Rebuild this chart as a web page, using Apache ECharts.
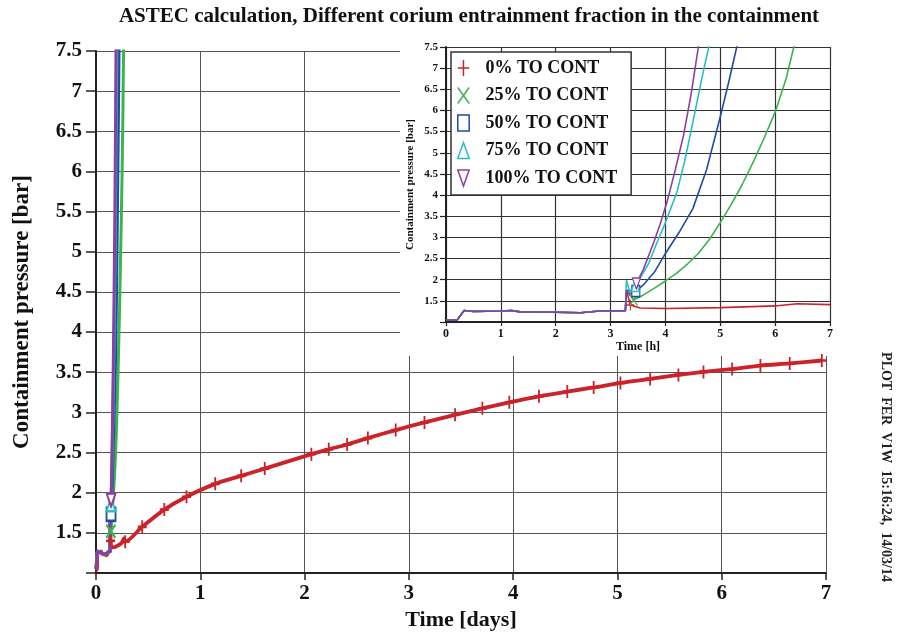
<!DOCTYPE html>
<html>
<head>
<meta charset="utf-8">
<script src="https://cdn.jsdelivr.net/npm/echarts@6/dist/echarts.min.js"></script>
<style>html,body{margin:0;padding:0;background:#fff}#c{width:903px;height:637px}</style>
</head>
<body>
<div id="c"></div>
<script>
// ---- data (inset, time in hours) ----
const seriesNames = ['0% TO CONT', '25% TO CONT', '50% TO CONT', '75% TO CONT', '100% TO CONT'];
const seriesColors = ['#cc2229', '#3cb44b', '#1c4ea2', '#2bbfc4', '#8b3fa0'];
// common part before the corium relocation (hours, bar)
const baseHours = [0, 0.2, 0.33, 0.5, 1.0, 1.2, 1.35, 2.0, 2.45, 2.8, 3.27];
const basePres  = [1.05, 1.04, 1.27, 1.25, 1.26, 1.27, 1.24, 1.23, 1.22, 1.26, 1.27];
// individual parts after the relocation [hours, bar]
const tail0   = [[3.29,1.75],[3.33,1.55],[3.36,1.40],[3.54,1.33],[4.03,1.32],[5.0,1.34],[6.0,1.38],[6.4,1.43],[7.0,1.41]];
const tail25  = [[3.29,1.75],[3.42,1.52],[3.6,1.64],[3.8,1.80],[4.0,1.97],[4.2,2.15],[4.4,2.37],[4.6,2.62],[4.8,2.95],[5.0,3.35],[5.2,3.78],[5.4,4.25],[5.6,4.78],[5.8,5.35],[6.0,5.96],[6.2,6.75],[6.34,7.5],[6.45,8.1]];
const tail50  = [[3.29,1.75],[3.46,1.73],[3.6,1.88],[3.8,2.18],[4.0,2.62],[4.25,3.12],[4.5,3.68],[4.75,4.6],[5.0,5.85],[5.15,6.65],[5.3,7.5],[5.4,8.1]];
const tail75  = [[3.29,1.99],[3.36,1.67],[3.45,1.85],[3.54,2.03],[3.7,2.4],[3.85,2.89],[4.0,3.35],[4.21,4.07],[4.35,4.8],[4.45,5.41],[4.56,6.1],[4.67,6.8],[4.79,7.5],[4.85,7.9]];
const tail100 = [[3.29,1.75],[3.36,1.63],[3.47,1.91],[3.6,2.25],[3.79,2.89],[3.9,3.3],[4.03,3.84],[4.18,4.6],[4.33,5.41],[4.47,6.4],[4.6,7.5],[4.66,8.0]];
const tailMarkIdx = [2, 1, 1, 2, 2];
// long-term pressure for 0% case (days, bar)
const redLongDays = [0.28,0.443,0.655,0.868,1.143,1.392,1.618,2.065,2.232,2.408,2.607,2.874,3.15,3.443,3.705,3.963,4.248,4.519,4.772,5.029,5.314,5.585,5.825,6.1,6.371,6.652,6.96];
const redLongPres = [1.39,1.575,1.79,1.95,2.11,2.21,2.30,2.48,2.54,2.60,2.68,2.78,2.875,2.97,3.05,3.125,3.2,3.26,3.31,3.367,3.417,3.467,3.504,3.54,3.583,3.61,3.646];
// axis ticks
const xTicksDays = [0, 7, 1];   // min, max, interval
const yTicks = [1, 7.5, 0.5];
const xTicksHours = [0, 7, 1];

const tails = [tail0, tail25, tail50, tail75, tail100];
const FONT = "'Liberation Serif', 'Times New Roman', serif";
const symPaths = [
  'path://M5,0L5,14M0,7L10,7',
  'path://M0,0L10,14M10,0L0,14',
  'path://M0,0L10,0L10,14L0,14Z',
  'path://M5,0L10,14L0,14Z',
  'path://M0,0L10,0L5,14Z'
];
const symFill = ['rgba(0,0,0,0)', 'rgba(0,0,0,0)', '#fff', '#fff', '#fff'];

function hourlyPoints(i) {
  const pts = baseHours.map((h, k) => ({ value: [h, basePres[k]], symbol: 'none' }));
  tails[i].forEach((p, k) => pts.push({ value: [p[0], p[1]], symbol: k === tailMarkIdx[i] ? symPaths[i] : 'none' }));
  return pts;
}

const series = [];
// inset series (hours)
for (let i = 0; i < 5; i++) {
  series.push({
    name: seriesNames[i], type: 'line', xAxisIndex: 1, yAxisIndex: 1, z: 3,
    data: hourlyPoints(i), symbolSize: [8, 11], showSymbol: true,
    smooth: false,
    lineStyle: { color: seriesColors[i], width: 1.6 },
    itemStyle: { color: symFill[i], borderColor: seriesColors[i], borderWidth: 1.3 },
    emphasis: { disabled: true }, silent: true
  });
}
// main series (days)
for (let i = 0; i < 5; i++) {
  let pts = hourlyPoints(i).map(d => ({ value: [d.value[0] / 24, d.value[1]], symbol: d.symbol }));
  if (i === 0) {
    pts = pts.filter(d => d.value[0] < redLongDays[0]);
    redLongDays.forEach((t, k) => pts.push({ value: [t, redLongPres[k]], symbol: symPaths[0] }));
  }
  series.push({
    name: seriesNames[i], type: 'line', xAxisIndex: 0, yAxisIndex: 0, z: 2,
    data: pts, symbolSize: [9, 13], showSymbol: true,
    smooth: i === 0 ? 0.25 : false,
    lineStyle: { color: seriesColors[i], width: i === 0 ? 3.8 : 3 },
    itemStyle: { color: symFill[i], borderColor: seriesColors[i], borderWidth: 2.2 },
    emphasis: { disabled: true }, silent: true
  });
}

const labelBold = (size) => ({ fontFamily: FONT, fontWeight: 'bold', fontSize: size, color: '#111' });
const hideOne = v => (v === 1 ? '' : String(v));

const option = {
  animation: false,
  backgroundColor: '#fff',
  grid: [
    { left: 96, top: 51, right: 77, bottom: 64 },
    { left: 446, top: 47, right: 73, bottom: 315 }
  ],
  xAxis: [
    {
      type: 'value', gridIndex: 0, min: xTicksDays[0], max: xTicksDays[1], interval: xTicksDays[2], z: 0,
      name: 'Time [days]', nameLocation: 'middle', nameGap: 36, nameTextStyle: labelBold(22),
      axisLine: { show: true, onZero: false, lineStyle: { color: '#222', width: 2 } },
      axisTick: { show: true, inside: false, length: 7, lineStyle: { color: '#222', width: 1.5 } },
      axisLabel: Object.assign({ margin: 10 }, labelBold(21)),
      splitLine: { show: true, lineStyle: { color: '#555', width: 1 } }
    },
    {
      type: 'value', gridIndex: 1, min: xTicksHours[0], max: xTicksHours[1], interval: xTicksHours[2], z: 2,
      name: 'Time [h]', nameLocation: 'middle', nameGap: 19, nameTextStyle: labelBold(12),
      axisLine: { show: true, onZero: false, lineStyle: { color: '#222', width: 2 } },
      axisTick: { show: true, inside: false, length: 4, lineStyle: { color: '#222', width: 1.2 } },
      axisLabel: Object.assign({ margin: 6 }, labelBold(12)),
      splitLine: { show: true, lineStyle: { color: '#333', width: 1.2 } }
    }
  ],
  yAxis: [
    {
      type: 'value', gridIndex: 0, min: yTicks[0], max: yTicks[1], interval: yTicks[2], z: 0,
      name: 'Containment pressure [bar]', nameLocation: 'middle', nameGap: 62, nameRotate: 90, nameTextStyle: labelBold(23),
      axisLine: { show: true, onZero: false, lineStyle: { color: '#222', width: 2 } },
      axisTick: { show: true, inside: false, length: 10, lineStyle: { color: '#222', width: 1.5 } },
      axisLabel: Object.assign({ margin: 14, formatter: hideOne }, labelBold(21)),
      splitLine: { show: true, lineStyle: { color: '#555', width: 1 } }
    },
    {
      type: 'value', gridIndex: 1, min: yTicks[0], max: yTicks[1], interval: yTicks[2], z: 2,
      name: 'Containment pressure [bar]', nameLocation: 'middle', nameGap: 30, nameRotate: 90, nameTextStyle: labelBold(11),
      axisLine: { show: true, onZero: false, lineStyle: { color: '#222', width: 2 } },
      axisTick: { show: true, inside: false, length: 6, lineStyle: { color: '#222', width: 1.2 } },
      axisLabel: Object.assign({ margin: 8, formatter: hideOne }, labelBold(11)),
      splitLine: { show: true, lineStyle: { color: '#333', width: 1.2 } }
    }
  ],
  legend: {
    orient: 'vertical', left: 451, top: 52, z: 5,
    backgroundColor: '#fff', borderColor: '#333', borderWidth: 1.5,
    padding: [7, 14, 8, 6], itemWidth: 14, itemHeight: 16, itemGap: 9.5,
    selectedMode: false,
    textStyle: Object.assign({ padding: [0, 0, 0, 10] }, labelBold(18)),
    data: seriesNames.map((n, i) => ({
      name: n, icon: symPaths[i],
      itemStyle: { color: symFill[i], borderColor: seriesColors[i], borderWidth: 1.5 }
    }))
  },
  graphic: [
    { type: 'rect', z: 1, silent: true, shape: { x: 400, y: 33, width: 442, height: 323 }, style: { fill: '#fff' } },
    { type: 'text', z: 5, x: 469, y: 17, silent: true,
      style: { text: 'ASTEC calculation, Different corium entrainment fraction in the containment',
               align: 'center', verticalAlign: 'middle', font: "bold 21px " + FONT, fill: '#111' } },
    { type: 'text', z: 5, x: 886, y: 467, rotation: -Math.PI / 2, silent: true,
      style: { text: 'PLOT  FER  V1W  15:16:24,  14/03/14', align: 'center', verticalAlign: 'middle',
               font: "bold 14px " + FONT, fill: '#222' } }
  ],
  series: series
};

const chart = echarts.init(document.getElementById('c'), null, { renderer: 'canvas' });
chart.setOption(option);
</script>
</body>
</html>
